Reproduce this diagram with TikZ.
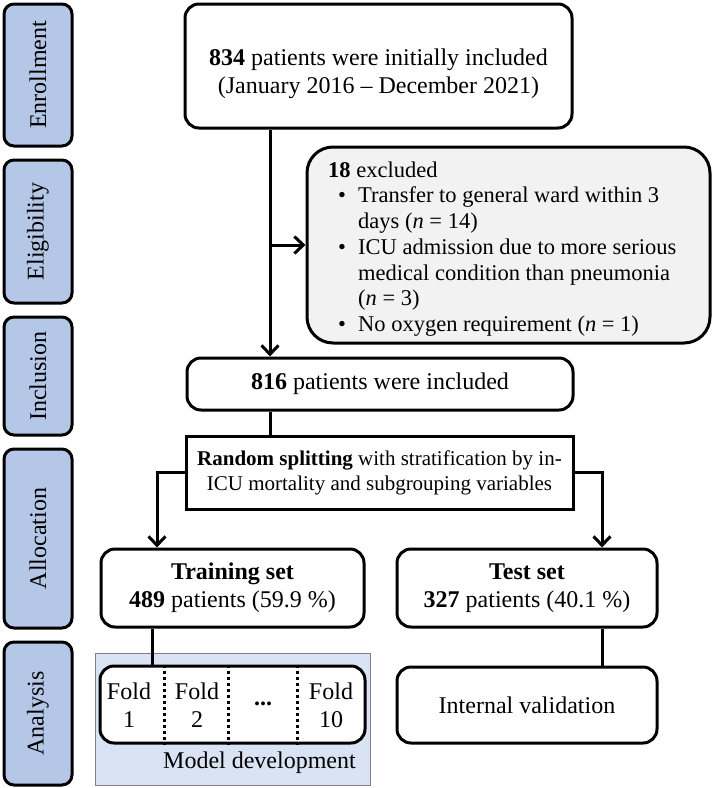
\documentclass[tikz,border=0pt]{standalone}
\usepackage{fontspec}
\setmainfont{Liberation Serif}
\usetikzlibrary{arrows.meta}
\definecolor{sideblue}{HTML}{B4C7E7}
\definecolor{devbg}{HTML}{DAE3F3}
\definecolor{exclgray}{HTML}{F2F2F2}
\definecolor{devborder}{HTML}{808080}
\begin{document}
\begin{tikzpicture}[x=1pt,y=-1pt,
  box/.style={draw, line width=3pt, rounded corners=14pt, fill=white, inner sep=0pt, align=center, font=\fontsize{24}{28}\selectfont},
  side/.style={draw, line width=3pt, rounded corners=10pt, fill=sideblue, rotate=90, minimum height=68pt, inner sep=0pt, font=\fontsize{24}{28}\selectfont},
  txt/.style={inner sep=0pt, align=center, font=\fontsize{24}{28}\selectfont},
  conn/.style={line width=3pt},
  arr/.style={line width=3pt, -{Straight Barb[length=9pt,width=17pt]}},
  sepline/.style={line width=3pt, dash pattern=on 3pt off 3pt},
]
\useasboundingbox (0,0) rectangle (712,788);

% side labels
\node[side, minimum width=142pt] (s1) at (38,75) {Enrollment};
\node[side, minimum width=143pt] (s2) at (38,231.5) {Eligibility};
\node[side, minimum width=118pt] (s3) at (38,376) {Inclusion};
\node[side, minimum width=179pt] (s4) at (38,538.5) {Allocation};
\node[side, minimum width=143pt] (s5) at (38,713.5) {Analysis};

% coordinates for connector x positions
\coordinate (mx) at (270,0);
\coordinate (lx) at (157,0);
\coordinate (rx) at (602,0);
\coordinate (fx) at (152,0);
\coordinate (d1) at (164,0);
\coordinate (d2) at (228,0);
\coordinate (d3) at (297,0);

% top box
\node[box, minimum width=387pt, minimum height=124pt] (top) at (378.5,66) {};
\node[txt] (toptext) at (378.5,74) {\textbf{834} patients were initially included\\(January 2016 -- December 2021)};

% exclusion box
\node[box, fill=exclgray, rounded corners=26pt, minimum width=403pt, minimum height=196pt] (excl) at (508.5,245) {};
\node[inner sep=0pt, anchor=west, align=left, font=\fontsize{22.5}{25.7}\selectfont] (excltext) at (328,249) {%
\textbf{18} excluded\\
\hspace*{10pt}\makebox[20pt][l]{\textbullet}Transfer to general ward within 3\\
\hspace*{30pt}days (\textit{n} = 14)\\
\hspace*{10pt}\makebox[20pt][l]{\textbullet}ICU admission due to more serious\\
\hspace*{30pt}medical condition than pneumonia\\
\hspace*{30pt}(\textit{n} = 3)\\
\hspace*{10pt}\makebox[20pt][l]{\textbullet}No oxygen requirement (\textit{n} = 1)};

% included
\node[box, minimum width=386pt, minimum height=52pt] (inc) at (380,384) {\textbf{816} patients were included};

% random splitting
\node[box, rounded corners=0pt, minimum width=387pt, minimum height=73pt, font=\fontsize{21}{25}\selectfont] (rand) at (379.5,472.5) {\textbf{Random splitting} with stratification by in-\\ICU mortality and subgrouping variables};

% training / test
\node[box, minimum width=263pt, minimum height=78pt] (train) at (232.5,588) {\textbf{Training set}\\\textbf{489} patients (59.9 \%)};
\node[box, minimum width=260pt, minimum height=78pt] (test) at (527,588) {\textbf{Test set}\\\textbf{327} patients (40.1 \%)};

% model development background
\node[draw=devborder, fill=devbg, line width=1pt, minimum width=275pt, minimum height=132pt, inner sep=0pt] (devbox) at (232.5,719) {};
\node[txt, anchor=base east] (devtext) at (356,768) {Model development};

% folds
\node[box, minimum width=265pt, minimum height=77pt] (fold) at (232.5,704.5) {};
\draw[sepline] (fold.north -| d1) -- (fold.south -| d1);
\draw[sepline] (fold.north -| d2) -- (fold.south -| d2);
\draw[sepline] (fold.north -| d3) -- (fold.south -| d3);
\node[txt] (f1) at (129,705) {Fold\\1};
\node[txt] (f2) at (197,705) {Fold\\2};
\node[txt] (f3) at (263,704) {\textbf{...}};
\node[txt] (f10) at (331,705) {Fold\\10};

% internal validation
\node[box, minimum width=260pt, minimum height=76pt] (iv) at (527,705) {Internal validation};

% connectors
\draw[arr] (top.south -| mx) -- (inc.north -| mx);
\draw[arr] (excl.west -| mx) -- (excl.west);
\draw[conn] (inc.south -| mx) -- (rand.north -| mx);
\draw[arr] (rand.west) -| (train.north -| lx);
\draw[arr] (rand.east) -| (test.north -| rx);
\draw[conn] (train.south -| fx) -- (fold.north -| fx);
\draw[conn] (test.south -| rx) -- (iv.north -| rx);
\end{tikzpicture}
\end{document}
